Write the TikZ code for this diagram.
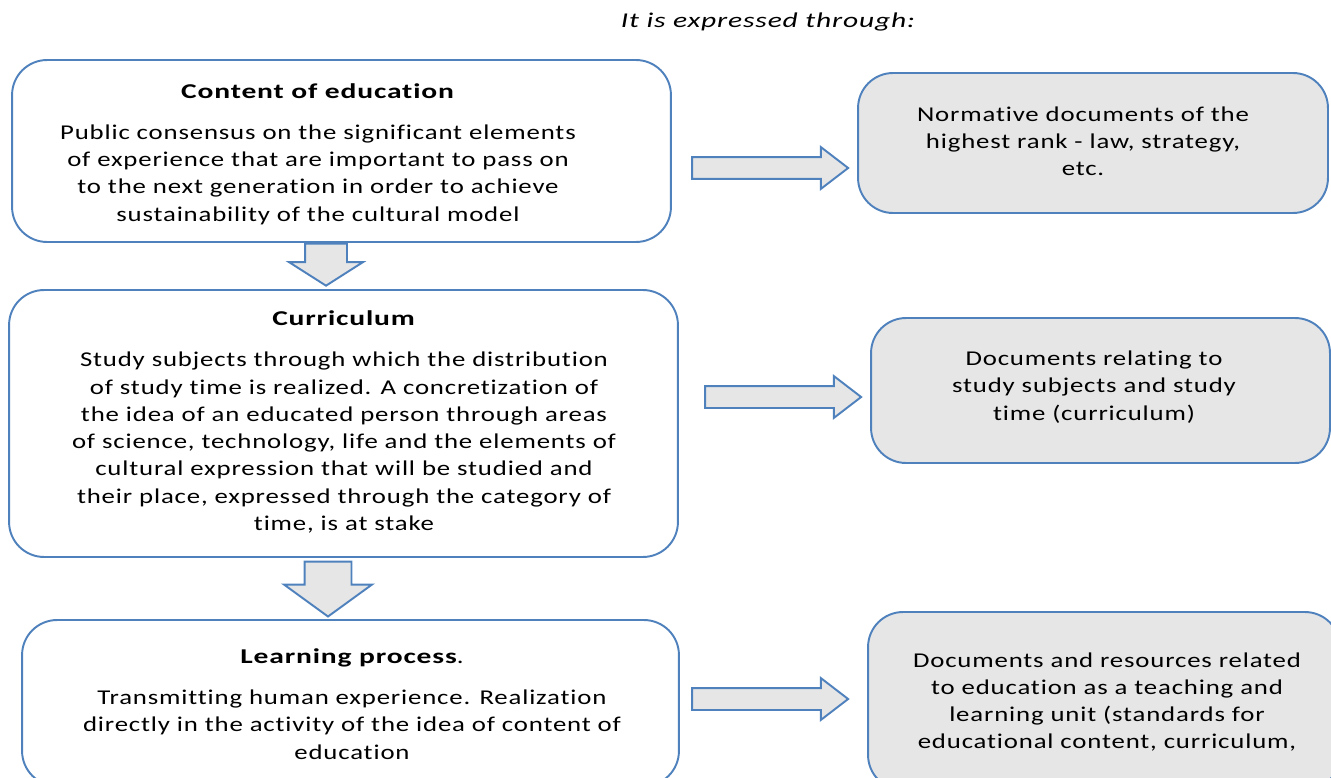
\documentclass[tikz,border=0pt]{standalone}
\usepackage{fontspec}
\setmainfont{Carlito}[FakeStretch=1.27, LetterSpace=4, Ligatures=NoCommon,
  BoldFeatures={FakeStretch=1.4}, ItalicFeatures={FakeStretch=1.4}]
\usetikzlibrary{shapes.arrows}

\definecolor{frameblue}{HTML}{4F81BD}
\definecolor{boxgray}{HTML}{E6E6E6}

\begin{document}
\begin{tikzpicture}[x=0.02cm, y=-0.02cm,
  stage/.style={draw=frameblue, line width=1.1pt, rounded corners=0.7cm, fill=white, inner sep=0pt},
  docbox/.style={stage, fill=boxgray},
  txt/.style={align=center, font=\fontsize{12}{15.5}\selectfont},
  blockarrow/.style={single arrow, draw=frameblue, fill=boxgray, line width=1.1pt, inner xsep=0pt},
  rightarrow/.style={blockarrow, inner ysep=0.2cm, minimum height=3.12cm, minimum width=0.8cm,
    single arrow head extend=0.2cm, single arrow tip angle=75}]

  \useasboundingbox (0,0) rectangle (1331,777);

  \node[txt, font=\fontsize{12}{15.5}\selectfont\itshape] (expressed) at (768,22) {It is expressed through:};

  % left column: the three stages
  \node[stage, minimum width=13.18cm, minimum height=3.64cm] (content) at (341.5,151) {};
  \node[txt] (contenttext) at (318,154) {\textbf{Content of education}\\[8pt]
    Public consensus on the significant elements\\
    of experience that are important to pass on\\
    to the next generation in order to achieve\\
    sustainability of the cultural model};

  \node[stage, minimum width=13.38cm, minimum height=5.34cm] (curriculum) at (343.5,423.5) {};
  \node[txt] (curriculumtext) at (344,422) {\textbf{Curriculum}\\[8pt]
    Study subjects through which the distribution\\
    of study time is realized. A concretization of\\
    the idea of an educated person through areas\\
    of science, technology, life and the elements of\\
    cultural expression that will be studied and\\
    their place, expressed through the category of\\
    time, is at stake};

  \node[stage, minimum width=13.14cm, minimum height=3.32cm] (learning) at (350.5,703) {};
  \node[txt] (learningtext) at (352,704) {\textbf{Learning process}.\\[8pt]
    Transmitting human experience. Realization\\
    directly in the activity of the idea of  content of\\
    education};

  % right column: the documents
  \node[docbox, minimum width=9.4cm, minimum height=2.8cm] (normative) at (1093,143) {};
  \node[txt] (normativetext) at (1083,141) {Normative documents of the\\
    highest rank - law, strategy,\\ etc.};

  \node[docbox, minimum width=9.18cm, minimum height=2.9cm] (subjects) at (1100.5,390.5) {};
  \node[txt] (subjectstext) at (1094,387) {Documents relating to\\
    study subjects and study\\ time (curriculum)};

  \node[docbox, minimum width=9.44cm, minimum height=3.56cm] (resources) at (1104,701) {};
  \node[txt] (resourcestext) at (1107,702) {Documents and resources related\\
    to education as a teaching and\\
    learning unit (standards for\\
    educational content, curriculum,};

  % block arrows
  \node[rightarrow] (toNormative) at (763,168) {};
  \node[rightarrow] (toSubjects) at (776,397) {};
  \node[rightarrow] (toResources) at (763,699) {};

  \node[blockarrow, rotate=-90, inner ysep=0.4cm, minimum height=0.84cm, minimum width=1.44cm,
    single arrow head extend=0.32cm, single arrow tip angle=115] (down1) at (326,258) {};
  \node[blockarrow, rotate=-90, inner ysep=0.45cm, minimum height=1.1cm, minimum width=1.72cm,
    single arrow head extend=0.41cm, single arrow tip angle=108] (down2) at (328,580.5) {};

\end{tikzpicture}
\end{document}
